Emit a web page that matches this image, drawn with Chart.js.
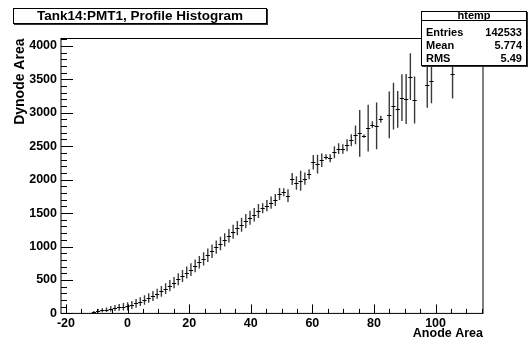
<!DOCTYPE html>
<html>
<head>
<meta charset="utf-8">
<script src="https://cdn.jsdelivr.net/npm/chart.js@4"></script>
<style>
  html, body { margin: 0; padding: 0; background: #fff; }
  #wrap { position: relative; width: 531px; height: 345px; font-family: "Liberation Sans", Arial, sans-serif; font-weight: bold; color: #000; }
  canvas { position: absolute; left: 0; top: 0; }
  .box { position: absolute; background: #fff; border: 1px solid #000; box-shadow: 1px 1px 0 #333; box-sizing: border-box; }
  #title { left: 13px; top: 8px; width: 254px; height: 16px; font-size: 13.5px; line-height: 14px; text-align: center; }
  #stats { left: 421px; top: 11px; width: 106px; height: 55px; font-size: 11px; }
  #stats .hd { position: absolute; left: 0; right: 0; top: 0; height: 8px; line-height: 7px; text-align: center; border-bottom: 1px solid #000; }
  #stats .row { position: absolute; left: 4px; right: 4px; height: 12px; line-height: 12px; }
  #stats .row span:last-child { position: absolute; right: 0; }
</style>
</head>
<body>
<div id="wrap">
  <canvas id="c" width="531" height="345"></canvas>
  <div class="box" id="title">Tank14:PMT1, Profile Histogram</div>
  <div class="box" id="stats">
    <div class="hd">htemp</div>
    <div class="row" style="top:14px"><span>Entries</span><span>142533</span></div>
    <div class="row" style="top:27px"><span>Mean</span><span>5.774</span></div>
    <div class="row" style="top:40px"><span>RMS</span><span>5.49</span></div>
  </div>
</div>
<script>
// ── DATA (profile bins: centre, mean, error) ──
const binX = [-10.93, -9.56, -8.19, -6.82, -5.45, -4.08, -2.71, -1.34, 0.03, 1.40,
  2.77, 4.14, 5.51, 6.88, 8.25, 9.62, 10.99, 12.36, 13.73, 15.10,
  16.47, 17.84, 19.21, 20.58, 21.95, 23.32, 24.69, 26.06, 27.43, 28.80,
  30.17, 31.54, 32.91, 34.28, 35.65, 37.02, 38.39, 39.76, 41.13, 42.50,
  43.87, 45.24, 46.61, 47.98, 49.35, 50.72, 52.09, 53.46, 54.83, 56.20,
  57.57, 58.94, 60.31, 61.68, 63.05, 64.42, 65.79, 67.16, 68.53, 69.90,
  71.27, 72.64, 74.01, 75.38, 76.75, 78.12, 79.49, 80.86, 82.23, 84.97,
  86.34, 87.71, 89.08, 90.45, 91.82, 93.19, 97.30, 98.67, 105.52];
const meanY = [20, 40, 46, 55, 70, 80, 90, 100, 105, 125,
  150, 175, 200, 230, 260, 295, 330, 370, 415, 460,
  510, 560, 610, 655, 710, 765, 815, 870, 930, 990,
  1045, 1100, 1160, 1220, 1275, 1325, 1380, 1430, 1475, 1530,
  1572, 1611, 1656, 1696, 1786, 1811, 1761, 2010, 1950, 1982,
  2015, 2082, 2260, 2232, 2290, 2340, 2320, 2410, 2465, 2458,
  2515, 2588, 2670, 2692, 2650, 2770, 2824, 2804, 2904, 2968,
  3100, 3050, 3225, 3205, 3540, 3190, 3415, 3468, 3572];
const errY = [15, 25, 30, 35, 40, 45, 50, 55, 60, 60,
  65, 65, 70, 70, 75, 75, 80, 80, 85, 85,
  90, 90, 90, 95, 95, 95, 100, 100, 100, 100,
  100, 100, 100, 105, 105, 105, 105, 105, 100, 105,
  75, 85, 90, 90, 90, 60, 95, 90, 100, 150,
  90, 75, 110, 140, 100, 40, 60, 90, 80, 70,
  90, 90, 140, 350, 25, 350, 50, 350, 50, 350,
  350, 275, 350, 375, 350, 350, 340, 325, 360];
const binWidth = 1.37;
const xTicks = [-20, 0, 20, 40, 60, 80, 100];
const yTicks = [0, 500, 1000, 1500, 2000, 2500, 3000, 3500, 4000];

const FONT = 'Liberation Sans, Arial, sans-serif';

// ── ROOT-style frame, inward ticks and error bars ──
const rootPlugin = {
  id: 'rootPlugin',
  afterDatasetsDraw(chart) {
    const { ctx, chartArea: a, scales: { x, y } } = chart;
    ctx.save();
    ctx.beginPath();
    ctx.rect(a.left, a.top, a.right - a.left, a.bottom - a.top);
    ctx.clip();
    // vertical error bars
    ctx.strokeStyle = '#3a3a3a';
    ctx.lineWidth = 1.4;
    ctx.beginPath();
    binX.forEach((bx, i) => {
      const px = x.getPixelForValue(bx);
      ctx.moveTo(px, y.getPixelForValue(meanY[i] - errY[i]));
      ctx.lineTo(px, y.getPixelForValue(meanY[i] + errY[i]));
    });
    ctx.stroke();
    // horizontal bin-width markers
    ctx.strokeStyle = '#000';
    ctx.lineWidth = 1;
    ctx.beginPath();
    binX.forEach((bx, i) => {
      const py = Math.round(y.getPixelForValue(meanY[i])) + 0.5;
      ctx.moveTo(x.getPixelForValue(bx - binWidth / 2), py);
      ctx.lineTo(x.getPixelForValue(bx + binWidth / 2), py);
    });
    ctx.stroke();
    ctx.restore();

    ctx.save();
    ctx.strokeStyle = '#000';
    ctx.lineWidth = 1;
    ctx.strokeRect(a.left, a.top, a.right - a.left, a.bottom - a.top);
    ctx.beginPath();
    // y ticks: major 500, minor 100
    for (let v = 0; v <= y.max; v += 100) {
      const py = Math.round(y.getPixelForValue(v)) + 0.5;
      const len = yTicks.includes(v) ? 12 : 6;
      ctx.moveTo(a.left, py); ctx.lineTo(a.left + len, py);
    }
    // x ticks: major 20, minor 5
    for (let v = -20; v <= x.max; v += 5) {
      const px = Math.round(x.getPixelForValue(v)) + 0.5;
      const len = xTicks.includes(v) ? 9 : 4.5;
      ctx.moveTo(px, a.bottom); ctx.lineTo(px, a.bottom - len);
    }
    ctx.stroke();
    ctx.restore();
  }
};

new Chart(document.getElementById('c'), {
  type: 'scatter',
  data: {
    datasets: [{ data: binX.map((v, i) => ({ x: v, y: meanY[i] })), pointRadius: 0, showLine: false }]
  },
  options: {
    responsive: false, animation: false, devicePixelRatio: 1,
    layout: { padding: { top: 38.5, right: 48, left: 0, bottom: 0 } },
    plugins: { legend: { display: false }, tooltip: { enabled: false } },
    scales: {
      x: {
        type: 'linear', min: -21.6, max: 115.4,
        afterBuildTicks: s => { s.ticks = xTicks.map(v => ({ value: v })); },
        afterFit: s => { s.height = 31.6; },
        grid: { display: false, drawTicks: false }, border: { display: false },
        ticks: { color: '#000', padding: 3, maxRotation: 0, autoSkip: false, callback: v => String(v),
          font: { family: FONT, size: 12.5, weight: 'bold' } },
        title: { display: true, text: 'Anode Area', align: 'end', color: '#000', padding: { top: 0, bottom: 4 },
          font: { family: FONT, size: 12.5, weight: 'bold' } }
      },
      y: {
        type: 'linear', min: 0, max: 4110,
        afterBuildTicks: s => { s.ticks = yTicks.map(v => ({ value: v })); },
        afterFit: s => { s.width = 61; },
        grid: { display: false, drawTicks: false }, border: { display: false },
        ticks: { color: '#000', padding: 4, autoSkip: false, callback: v => String(v),
          font: { family: FONT, size: 12.5, weight: 'bold' } },
        title: { display: true, text: 'Dynode Area', align: 'end', color: '#000', padding: { top: 12, bottom: 0 },
          font: { family: FONT, size: 14, weight: 'bold' } }
      }
    }
  },
  plugins: [rootPlugin]
});
</script>
</body>
</html>
